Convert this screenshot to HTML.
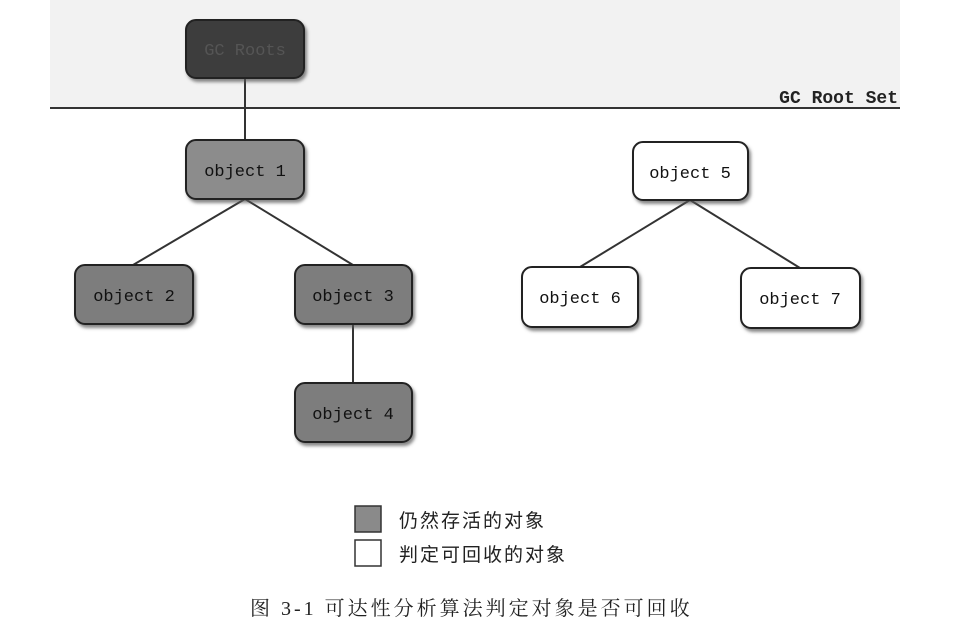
<!DOCTYPE html>
<html><head><meta charset="utf-8"><style>
html,body{margin:0;padding:0;background:#fff;}
svg{display:block;}
</style></head><body>
<svg width="964" height="636" viewBox="0 0 964 636" xmlns="http://www.w3.org/2000/svg">
<defs>
<filter id="sh" x="-10%" y="-10%" width="130%" height="130%"><feDropShadow dx="2" dy="3" stdDeviation="1.5" flood-color="#555" flood-opacity="0.7"/></filter>
</defs>
<rect x="50" y="0" width="850" height="107" fill="#f2f2f2"/>
<line x1="50" y1="108" x2="900" y2="108" stroke="#333" stroke-width="2"/>
<text x="898" y="103" text-anchor="end" font-family="Liberation Mono, monospace" font-size="18" font-weight="bold" fill="#222">GC Root Set</text>
<g stroke="#333" stroke-width="2" fill="none">
<line x1="245" y1="78" x2="245" y2="140"/>
<line x1="245" y1="199" x2="133" y2="265"/>
<line x1="245" y1="199" x2="353" y2="265"/>
<line x1="353" y1="324" x2="353" y2="383"/>
<line x1="690" y1="200" x2="580" y2="267"/>
<line x1="690" y1="200" x2="800" y2="268"/>
</g>
<g stroke="#222" stroke-width="2" filter="url(#sh)">
<rect x="186" y="20" width="118" height="58" rx="10" fill="#3c3c3c"/>
<rect x="186" y="140" width="118" height="59" rx="10" fill="#8c8c8c"/>
<rect x="75" y="265" width="118" height="59" rx="10" fill="#7d7d7d"/>
<rect x="295" y="265" width="117" height="59" rx="10" fill="#7d7d7d"/>
<rect x="295" y="383" width="117" height="59" rx="10" fill="#7d7d7d"/>
<rect x="633" y="142" width="115" height="58" rx="10" fill="#fff"/>
<rect x="522" y="267" width="116" height="60" rx="10" fill="#fff"/>
<rect x="741" y="268" width="119" height="60" rx="10" fill="#fff"/>
</g>
<g font-family="Liberation Mono, monospace" font-size="17" text-anchor="middle" fill="#111">
<text x="245" y="55" fill="#555">GC Roots</text>
<text x="245" y="176">object 1</text>
<text x="134" y="301">object 2</text>
<text x="353" y="301">object 3</text>
<text x="353" y="419">object 4</text>
<text x="690" y="178">object 5</text>
<text x="580" y="303">object 6</text>
<text x="800" y="304">object 7</text>
</g>
<rect x="355" y="506" width="26" height="26" fill="#8a8a8a" stroke="#333" stroke-width="1.5"/>
<rect x="355" y="540" width="26" height="26" fill="#fff" stroke="#333" stroke-width="1.5"/>
<g font-family="Liberation Sans, Noto Sans CJK SC, sans-serif" font-size="19" letter-spacing="2" fill="#222">
<text x="399" y="527">仍然存活的对象</text>
<text x="399" y="561">判定可回收的对象</text>
</g>
<text x="250" y="615" font-family="Liberation Serif, Noto Serif CJK SC, serif" font-size="20" letter-spacing="3" fill="#222">图 3-1  可达性分析算法判定对象是否可回收</text>
</svg>
</body></html>
